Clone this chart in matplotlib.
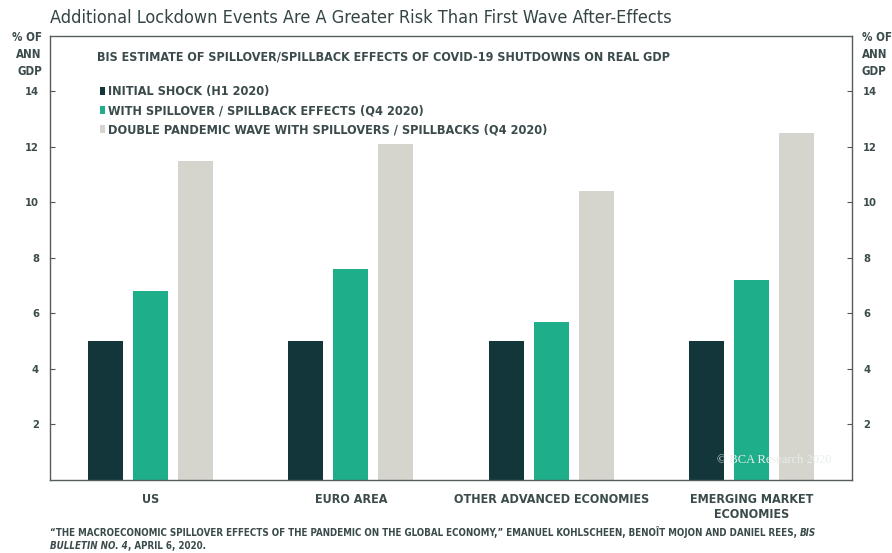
import matplotlib
matplotlib.use("Agg")
import matplotlib.pyplot as plt
import numpy as np

categories = ["US", "EURO AREA", "OTHER ADVANCED ECONOMIES", "EMERGING MARKET\nECONOMIES"]
initial_shock = [5.0, 5.0, 5.0, 5.0]
with_spillover = [6.8, 7.6, 5.7, 7.2]
double_wave = [11.5, 12.1, 10.4, 12.5]
series_labels = [
    "INITIAL SHOCK (H1 2020)",
    "WITH SPILLOVER / SPILLBACK EFFECTS (Q4 2020)",
    "DOUBLE PANDEMIC WAVE WITH SPILLOVERS / SPILLBACKS (Q4 2020)",
]
yticks = [2, 4, 6, 8, 10, 12, 14]

colors = ["#13363b", "#1fae8a", "#d5d4cd"]
text_color = "#3b4b4b"


def main():
    plt.rcParams["font.family"] = ["DejaVu Sans"]
    plt.rcParams["font.stretch"] = "condensed"
    fig = plt.figure(figsize=(8.92, 5.53), dpi=100)
    ax = fig.add_axes([0.0561, 0.132, 0.899, 0.803])

    x = np.arange(len(categories))
    width = 0.174
    offset = 0.224
    handles = []
    for i, vals in enumerate([initial_shock, with_spillover, double_wave]):
        b = ax.bar(x + (i - 1) * offset, vals, width, color=colors[i],
                   label=series_labels[i])
        handles.append(b)

    ax.set_xlim(-0.5, 3.5)
    ax.set_ylim(0, 16)
    ax.set_xticks(x)
    ax.set_xticklabels(categories, fontsize=9, color=text_color,
                       fontweight="bold")
    ax.tick_params(axis="x", length=0, pad=9)
    ax.set_yticks(yticks)
    ax.tick_params(axis="y", direction="in", length=3.5, color="#555555",
                   labelsize=8, labelcolor=text_color, pad=8,
                   left=True, right=True, labelleft=True, labelright=True)
    for lab in ax.get_yticklabels():
        lab.set_fontweight("bold")
    for s in ax.spines.values():
        s.set_color("#555d5d")
        s.set_linewidth(1.0)

    fig.text(0.0561, 0.968, "Additional Lockdown Events Are A Greater Risk "
             "Than First Wave After-Effects", fontsize=13, color="#354545",
             va="center", ha="left")
    fig.text(0.047, 0.944, "% OF\nANN\nGDP", fontsize=8.3,
             color=text_color, fontweight="bold", ha="right", va="top",
             linespacing=1.42, multialignment="right")
    fig.text(0.966, 0.944, "% OF\nANN\nGDP", fontsize=8.3,
             color=text_color, fontweight="bold", ha="left", va="top",
             linespacing=1.42, multialignment="left")

    ax.text(0.0586, 0.953, "BIS ESTIMATE OF SPILLOVER/SPILLBACK EFFECTS OF "
            "COVID-19 SHUTDOWNS ON REAL GDP", transform=ax.transAxes,
            fontsize=9, color=text_color, fontweight="bold", va="center")

    ax.legend(handles=handles, loc="upper left",
              bbox_to_anchor=(0.048, 0.915), frameon=False,
              handlelength=0.4, handleheight=0.6, handletextpad=0.25,
              labelspacing=0.5, labelcolor=text_color,
              prop={"weight": "bold", "size": 9.1, "stretch": "condensed"})

    ax.text(0.832, 0.045, "\u00a9 BCA Research 2020", transform=ax.transAxes,
            fontsize=9, color="#e9efe9", family="Liberation Serif",
            va="center")

    t1 = fig.text(0.056, 0.031, "\u201cTHE MACROECONOMIC SPILLOVER EFFECTS "
                  "OF THE PANDEMIC ON THE GLOBAL ECONOMY,\u201d EMANUEL "
                  "KOHLSCHEEN, BENO\u00ceT MOJON AND DANIEL REES, ",
                  fontsize=7.0, color=text_color, fontweight="bold",
                  va="baseline")
    ax.annotate("BIS", xy=(1, 0), xycoords=t1, va="bottom", fontsize=7.0,
                color=text_color, fontweight="bold", style="italic",
                annotation_clip=False)
    t2 = fig.text(0.056, 0.008, "BULLETIN NO. 4", fontsize=7.0,
                  color=text_color, fontweight="bold", style="italic",
                  va="baseline")
    ax.annotate(", APRIL 6, 2020.", xy=(1, 0), xycoords=t2, va="bottom",
                fontsize=7.0, color=text_color, fontweight="bold",
                annotation_clip=False)

    fig.savefig("out.png", dpi=100)


if __name__ == "__main__":
    main()
